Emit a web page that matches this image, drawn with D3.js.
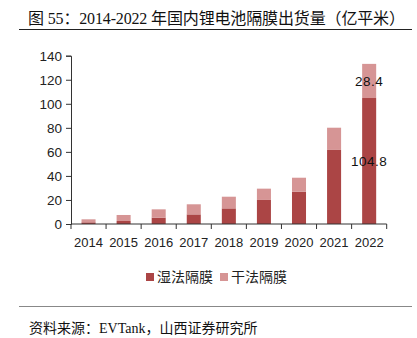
<!DOCTYPE html>
<html><head><meta charset="utf-8">
<script src="https://cdn.jsdelivr.net/npm/d3@7"></script>
<style>
html,body{margin:0;padding:0;background:#fff;}
svg{display:block;}
</style></head>
<body>
<svg id="chart" width="417" height="338"></svg>
<script>
const years = ["2014","2015","2016","2017","2018","2019","2020","2021","2022"];
const wetValues = [1.4, 2.5, 5.3, 8.0, 13.0, 20.0, 26.9, 61.6, 104.8];
const dryValues = [2.5, 5.0, 6.9, 8.4, 9.7, 9.4, 11.6, 18.5, 28.4];
const yTicks = [0, 20, 40, 60, 80, 100, 120, 140];
const seriesNames = ["湿法隔膜", "干法隔膜"];
const seriesColors = ["#ab4545", "#d69595"];
const labeledIndex = 8;

const svg = d3.select("#chart");
const sansFont = "Arial, 'Liberation Sans', 'Noto Sans CJK SC', sans-serif";
const serifFont = "'Times New Roman', 'Liberation Serif', 'Noto Sans CJK SC', serif";

// Title
svg.append("text").attr("x", 28).attr("y", 24)
  .attr("font-family", serifFont).attr("font-size", 16).attr("fill", "#111")
  .attr("textLength", 377).attr("lengthAdjust", "spacing")
  .text("图 55：2014-2022 年国内锂电池隔膜出货量（亿平米）");
svg.append("line").attr("x1", 19).attr("x2", 412).attr("y1", 29.5).attr("y2", 29.5)
  .attr("stroke", "#222").attr("stroke-width", 1);

// Scales
const x = d3.scaleBand().domain(years).range([71, 386.7]).paddingInner(0.6).paddingOuter(0.3);
const y = d3.scaleLinear().domain([0, 140]).range([224, 55.7]);

const data = years.map((yr, i) => ({year: yr, wet: wetValues[i], dry: dryValues[i]}));
const stack = d3.stack().keys(["wet", "dry"])(data);

const g = svg.append("g");
g.selectAll("g.series").data(stack).join("g")
  .attr("fill", (d, i) => seriesColors[i])
  .selectAll("rect").data(d => d).join("rect")
  .attr("x", d => x(d.data.year))
  .attr("width", x.bandwidth())
  .attr("y", d => y(d[1]))
  .attr("height", d => y(d[0]) - y(d[1]));

// Y axis
const yAxis = d3.axisLeft(y).tickValues(yTicks).tickSize(5).tickPadding(4);
const ya = svg.append("g").attr("transform", "translate(71,0)").call(yAxis);
ya.select(".domain").attr("stroke", "#333");
ya.selectAll(".tick line").attr("stroke", "#333");
ya.selectAll("text").attr("font-family", sansFont).attr("font-size", 13.5).attr("fill", "#222");

// X axis with boundary ticks
const xa = svg.append("g").attr("transform", "translate(0,224)");
xa.append("line").attr("x1", 71).attr("x2", 386.7).attr("y1", 0).attr("y2", 0).attr("stroke", "#333");
const bounds = d3.range(years.length + 1).map(i => x.range()[0] + i * (x.range()[1] - x.range()[0]) / years.length);
xa.selectAll("line.b").data(bounds).join("line").attr("class", "b")
  .attr("x1", d => d).attr("x2", d => d).attr("y1", 0).attr("y2", 5).attr("stroke", "#333");
xa.selectAll("text").data(years).join("text")
  .attr("x", d => x(d) + x.bandwidth() / 2).attr("y", 23)
  .attr("text-anchor", "middle")
  .attr("font-family", sansFont).attr("font-size", 13).attr("fill", "#222")
  .text(d => d);

// Value labels on last bar
const lastWet = stack[0][labeledIndex], lastDry = stack[1][labeledIndex];
const cx = x(years[labeledIndex]) + x.bandwidth() / 2;
[[lastDry, dryValues[labeledIndex]], [lastWet, wetValues[labeledIndex]]].forEach(([s, v]) => {
  svg.append("text").attr("x", cx).attr("y", (y(s[0]) + y(s[1])) / 2 + 5)
    .attr("text-anchor", "middle").attr("font-family", sansFont).attr("font-size", 13.5)
    .attr("fill", "#111").attr("letter-spacing", 0.5).text(v.toFixed(1));
});

// Legend
const legendX = [146, 220];
seriesNames.forEach((n, i) => {
  svg.append("rect").attr("x", legendX[i]).attr("y", 273).attr("width", 8).attr("height", 8)
    .attr("fill", seriesColors[i]);
  svg.append("text").attr("x", legendX[i] + 11).attr("y", 282)
    .attr("font-family", "'Noto Sans CJK SC', sans-serif").attr("font-size", 14).attr("fill", "#222")
    .text(n);
});

// Footer
svg.append("line").attr("x1", 19).attr("x2", 412).attr("y1", 306.5).attr("y2", 306.5)
  .attr("stroke", "#888").attr("stroke-width", 1.2);
svg.append("text").attr("x", 29).attr("y", 333)
  .attr("font-family", serifFont).attr("font-size", 14).attr("fill", "#111")
  .text("资料来源：EVTank，山西证券研究所");
</script>
</body></html>
